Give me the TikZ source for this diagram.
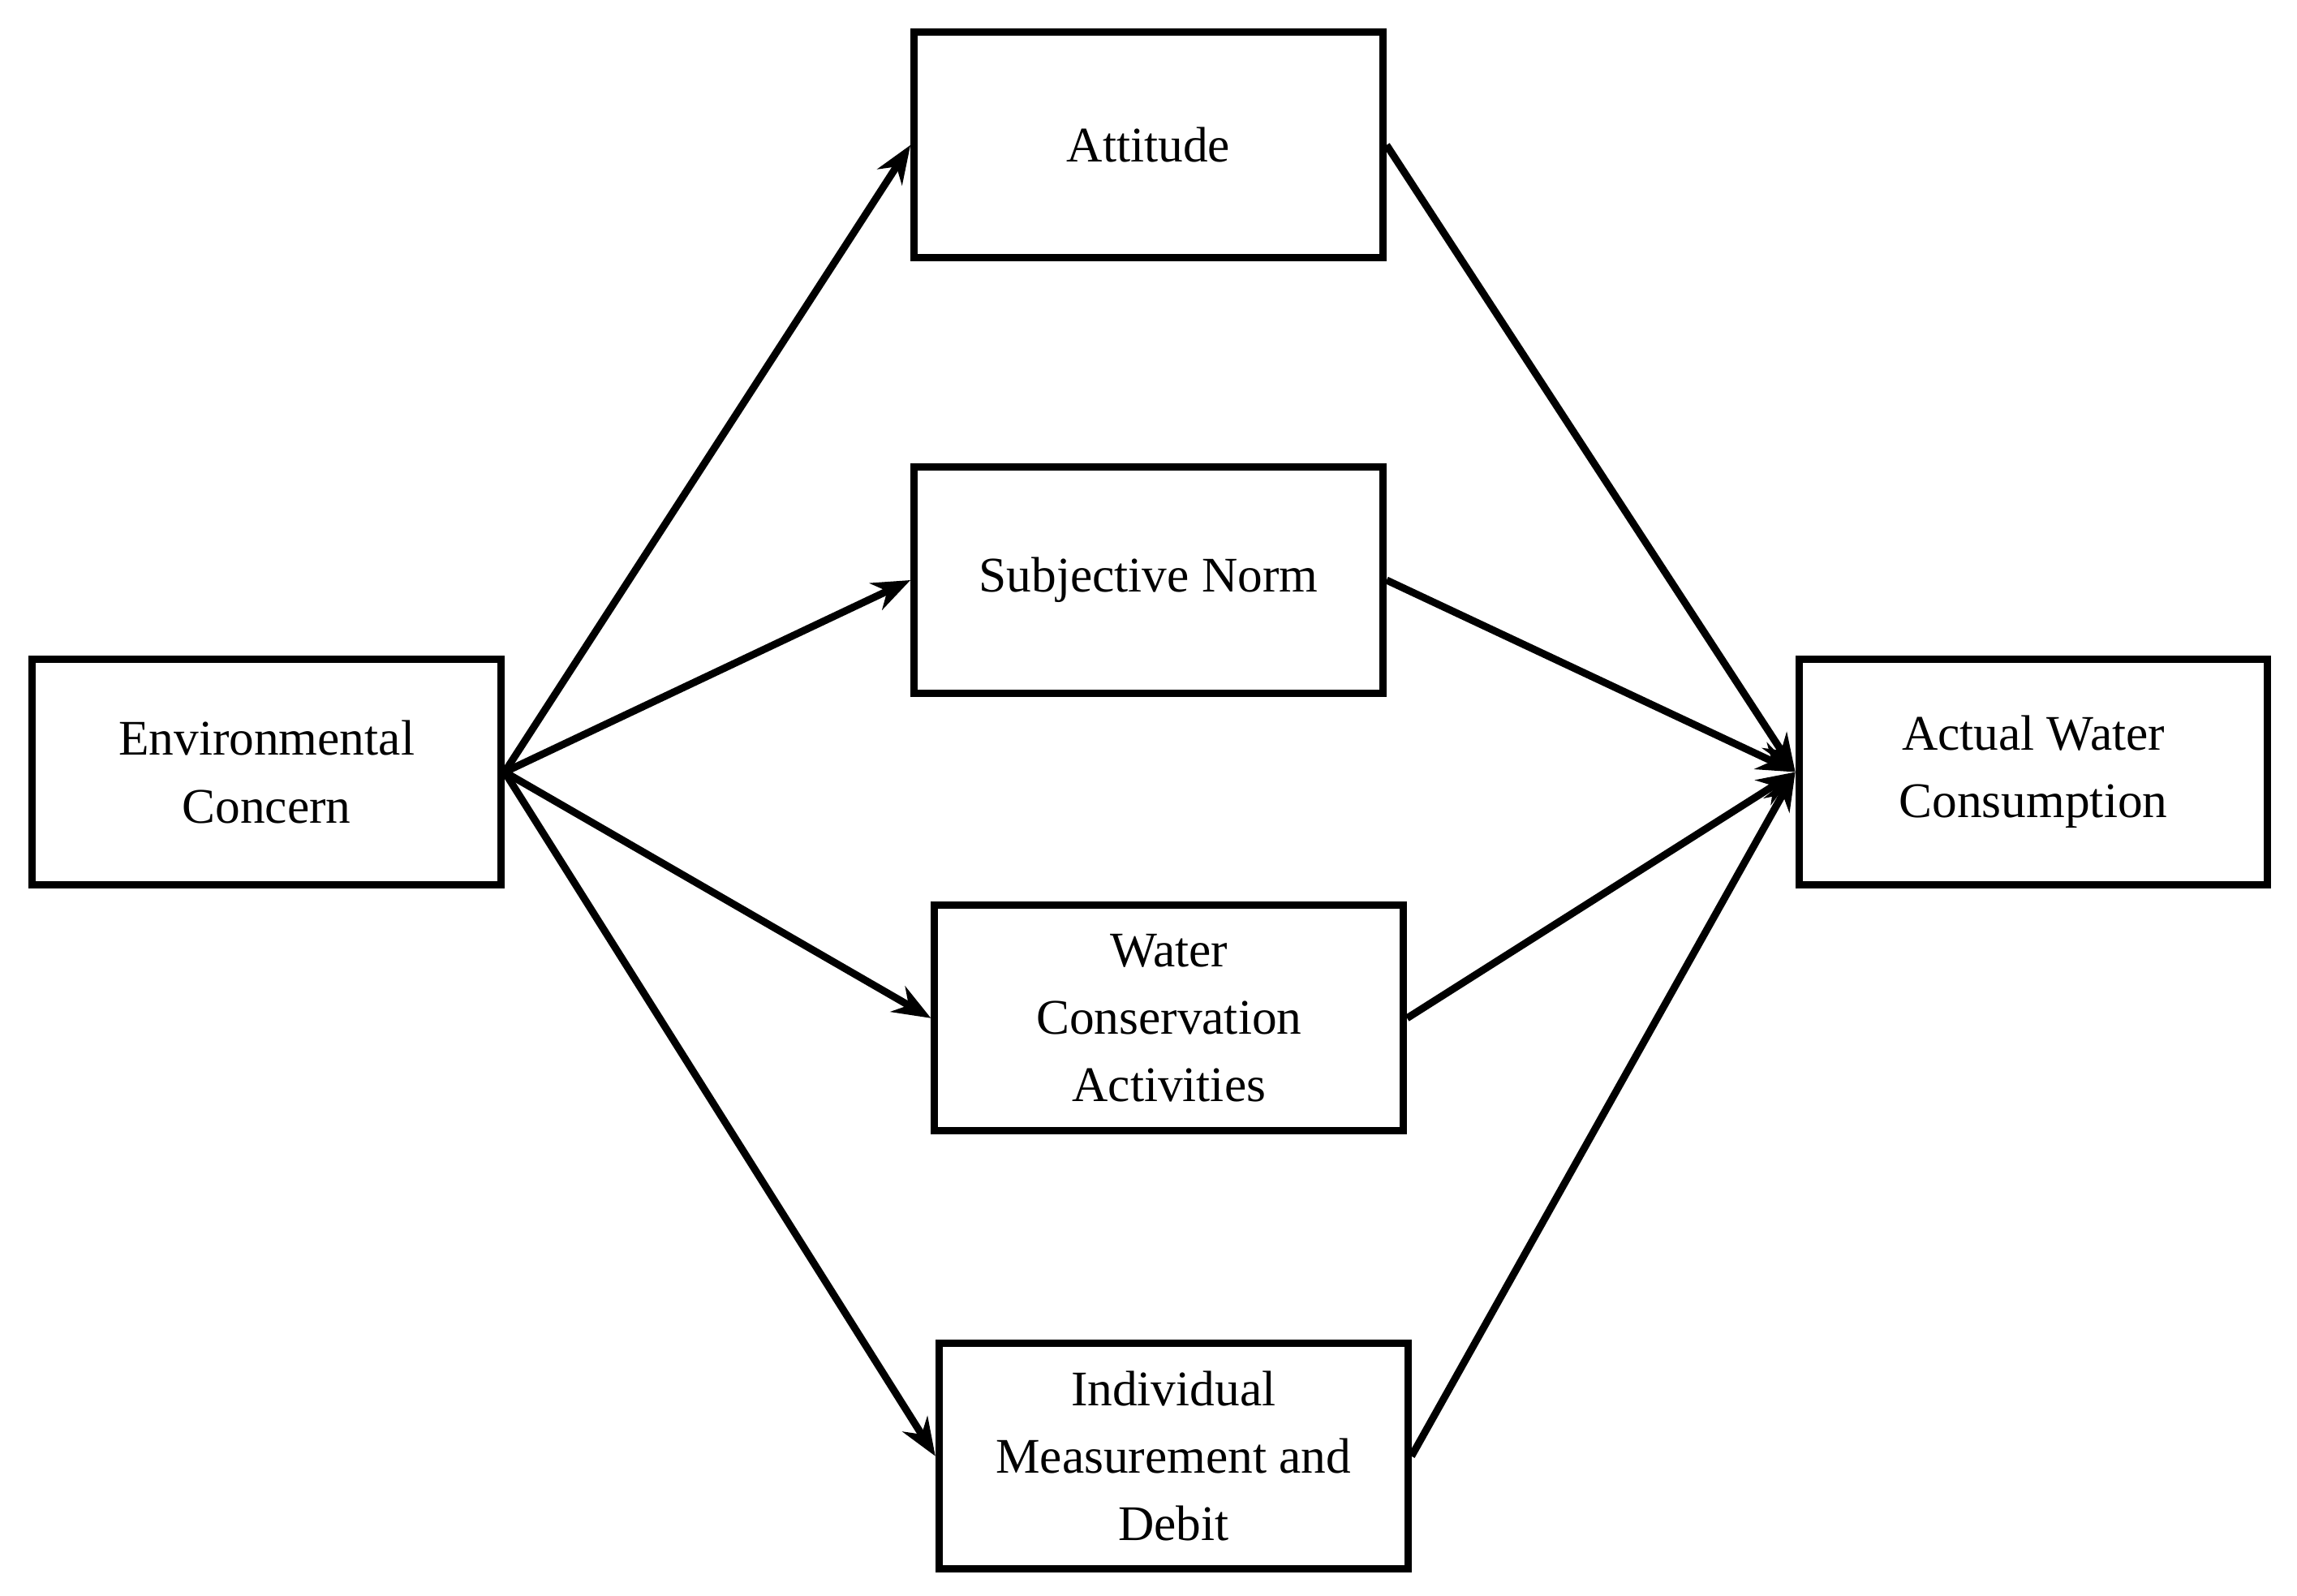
\documentclass[tikz,border=0pt]{standalone}
\usepackage{fontspec}
\setmainfont{Liberation Serif}
\usetikzlibrary{arrows.meta}
\begin{document}
\begin{tikzpicture}[x=0.5pt,y=-0.5pt,
  box/.style={draw,line width=2.5pt,minimum width=160pt,minimum height=77pt,align=center,font=\fontsize{17}{23}\selectfont,inner sep=0pt},
  arr/.style={line width=2.5pt,-{Stealth[length=13pt,width=10pt]}},
  ln/.style={line width=2.5pt}]
\useasboundingbox (0,0) rectangle (1568,1089);
\node[box] (ec) at (182,527) {Environmental\\Concern};
\node[box] (at) at (784,99) {Attitude};
\node[box] (sn) at (784,396) {Subjective Norm};
\node[box] (wc) at (798,695) {Water\\Conservation\\Activities};
\node[box] (im) at (801,994) {Individual\\Measurement and\\Debit};
\node[box] (aw) at (1388,527) {Actual Water\\Consumption};
\foreach \n in {at,sn,wc,im}{
  \draw[arr] (ec.east) -- (\n.west);
  \draw[arr] (\n.east) -- (aw.west);
}
\end{tikzpicture}
\end{document}
